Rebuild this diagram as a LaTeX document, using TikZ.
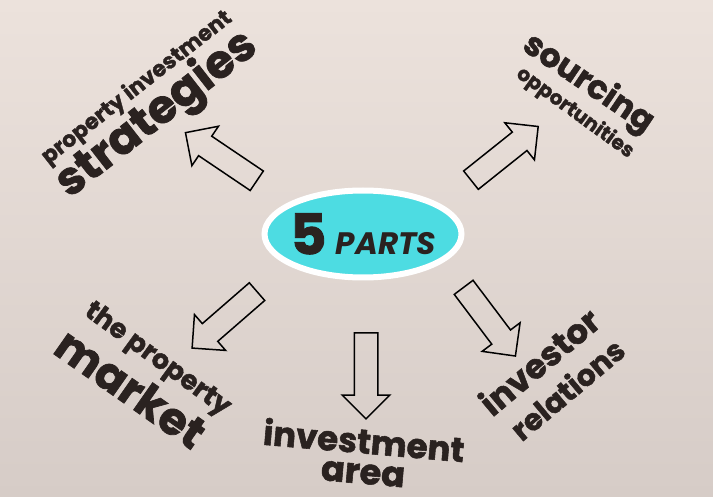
\documentclass[tikz,border=0pt]{standalone}
\usepackage{fontspec}
\setmainfont{Poppins}[BoldFeatures={FakeBold=1.6}]
\usetikzlibrary{shapes.geometric,shapes.arrows}
\definecolor{bgtop}{HTML}{ECE2DC}
\definecolor{bgbot}{HTML}{D6CCC7}
\definecolor{ink}{HTML}{2A2220}
\definecolor{oval}{HTML}{4DDCE2}
\newcommand{\fsz}[1]{\fontsize{#1}{#1}\selectfont}
\begin{document}
\begin{tikzpicture}[x=1pt, y=-1pt,
  every node/.style={text=ink, font=\bfseries, inner sep=0pt},
  blockarrow/.style={single arrow, draw=black, line width=1.5pt,
    inner xsep=0pt, inner ysep=11pt, minimum height=86pt,
    single arrow head extend=12pt}]
  % background
  \shade[top color=bgtop, bottom color=bgbot] (0,0) rectangle (713,497);
  \useasboundingbox (0,0) rectangle (713,497);

  % centre oval
  \node[ellipse, draw=white, line width=6pt, fill=oval,
    minimum width=197pt, minimum height=87pt] (parts) at (363,234) {};
  \node (partslbl) at (parts.center) {\fsz{56}5\,\fsz{31}\itshape PARTS};

  % block arrows
  \node[blockarrow, rotate=146] (arrstr) at (226,160) {};
  \node[blockarrow, rotate=38.6] (arrsrc) at (500,157) {};
  \node[blockarrow, rotate=221] (arrmkt) at (229,316) {};
  \node[blockarrow, rotate=270] (arrarea) at (366,370) {};
  \node[blockarrow, rotate=-53] (arrinv) at (486,317) {};

  % labels
  \node[rotate=38] (strtop) at (137,88) {\fsz{22}property investment};
  \node[rotate=38] (strbig) at (157,115) {\fsz{46}strategies};

  \node[rotate=-34] (srcbig) at (588,84) {\fsz{33}sourcing};
  \node[rotate=-36] (srcsub) at (575,113) {\fsz{20}opportunities};

  \node[rotate=-36] (mkttop) at (157,360) {\fsz{27}the property};
  \node[rotate=-35] (mktbig) at (131,388) {\fsz{45}market};

  \node[rotate=-5] (areatop) at (364,440) {\fsz{34}investment};
  \node[rotate=-5] (areabig) at (363,474) {\fsz{35}area};

  \node[rotate=40] (invtop) at (539,361) {\fsz{34}investor};
  \node[rotate=40] (invsub) at (567,389) {\fsz{30}relations};
\end{tikzpicture}
\end{document}
